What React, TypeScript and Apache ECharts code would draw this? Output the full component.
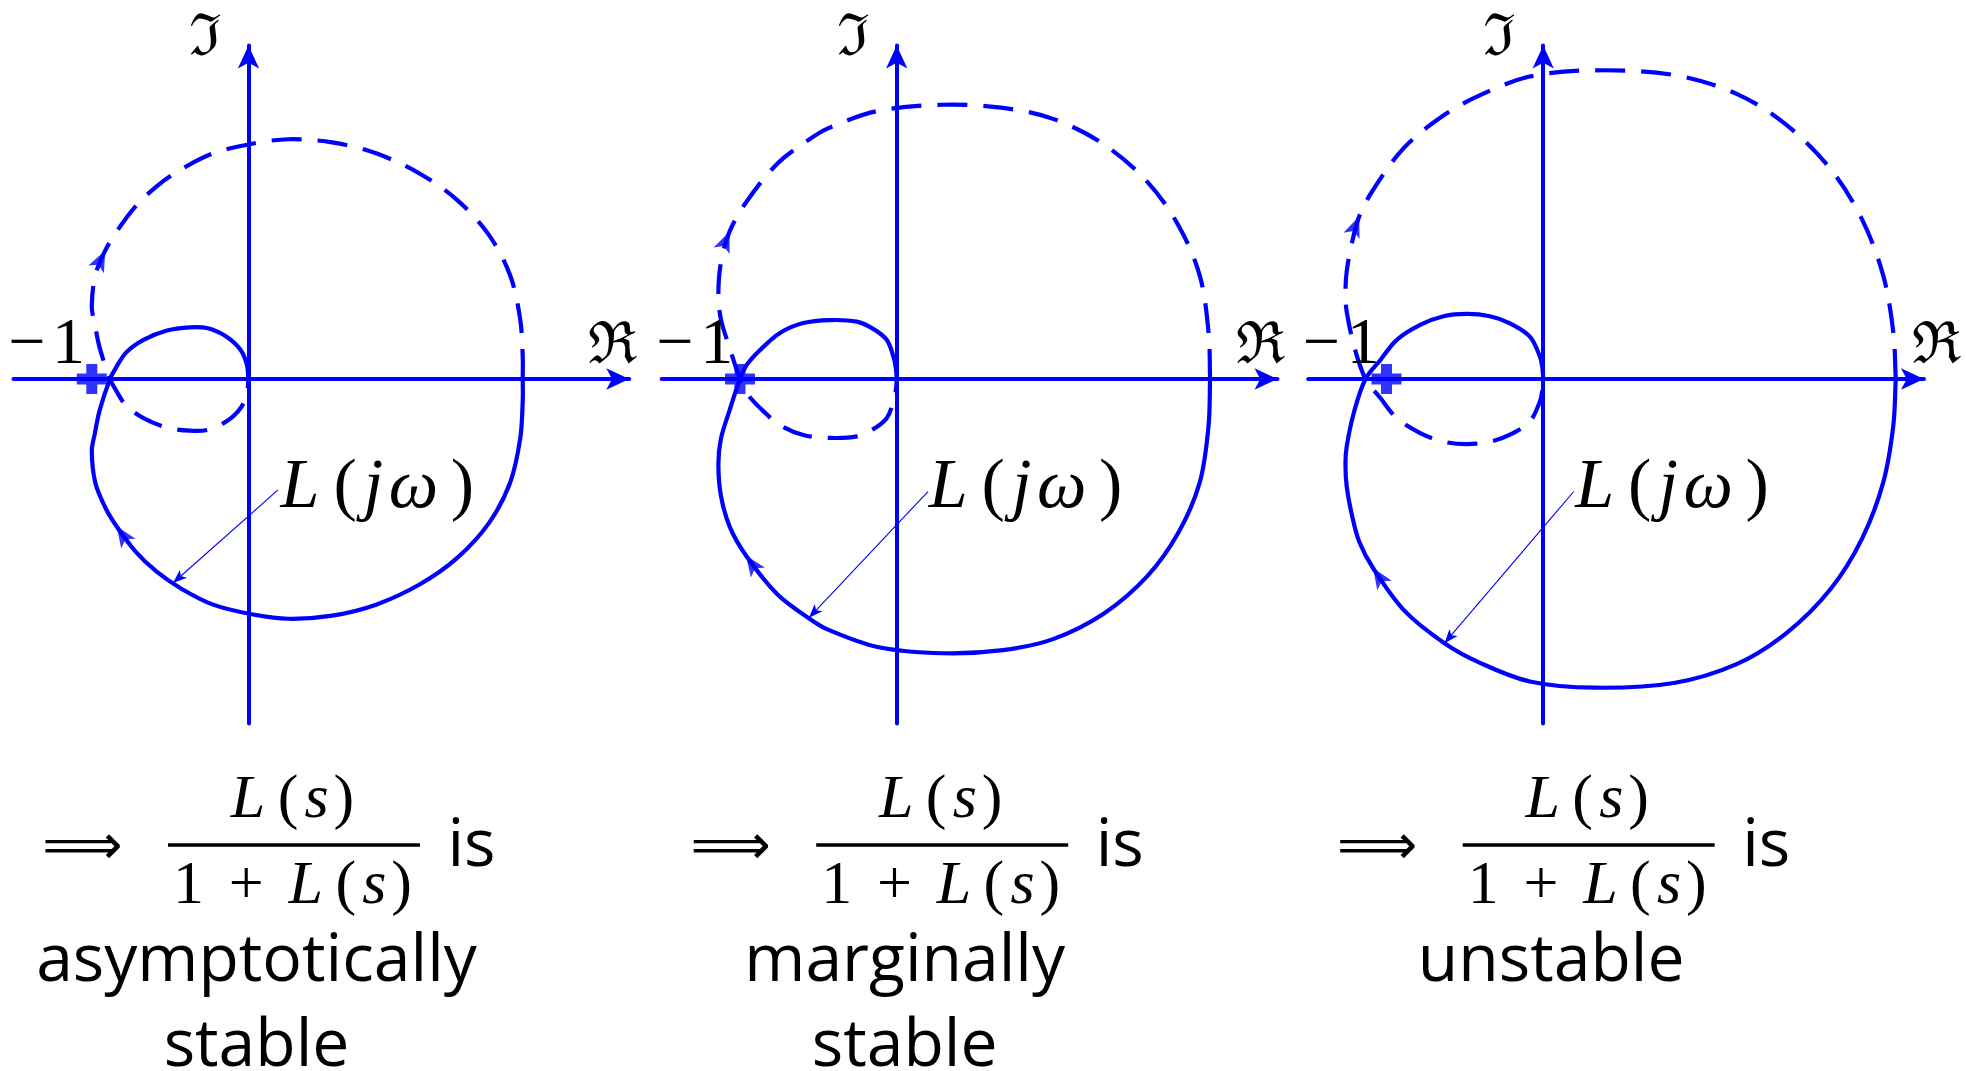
import React, { useEffect, useRef } from "react";
import * as echarts from "echarts";

// L(jω) for ω ≥ 0, listed from ω = 0 (on the positive real axis) to ω → ∞ (origin).
// The ω < 0 branch is the complex conjugate of each curve.
const stableCurve: number[][] = [
  [1.75, 0], [1.75, -0.14], [1.734, -0.38], [1.67, -0.66], [1.534, -0.92],
  [1.334, -1.14], [1.094, -1.31], [0.814, -1.44], [0.534, -1.51], [0.254, -1.53],
  [0.014, -1.5], [-0.226, -1.44], [-0.426, -1.34], [-0.586, -1.23], [-0.722, -1.1],
  [-0.842, -0.94], [-0.914, -0.82], [-0.978, -0.66], [-1.0, -0.46], [-0.98, -0.345],
  [-0.95, -0.2], [-0.884, 0], [-0.85, 0.065], [-0.78, 0.17], [-0.67, 0.25],
  [-0.52, 0.31], [-0.373, 0.33], [-0.265, 0.325], [-0.14, 0.27], [-0.05, 0.185],
  [-0.01, 0.09], [0, 0],
];

const marginalCurve: number[][] = [
  [2.0, 0], [1.99, -0.3], [1.934, -0.66], [1.798, -0.98], [1.598, -1.26],
  [1.318, -1.5], [0.998, -1.66], [0.678, -1.73], [0.294, -1.75], [-0.122, -1.71],
  [-0.442, -1.598], [-0.562, -1.526], [-0.762, -1.374], [-0.962, -1.126], [-1.066, -0.942],
  [-1.122, -0.742], [-1.138, -0.542], [-1.122, -0.382], [-1.066, -0.198], [-1.0, 0],
  [-0.957, 0.09], [-0.872, 0.185], [-0.745, 0.294], [-0.596, 0.357], [-0.426, 0.376],
  [-0.255, 0.366], [-0.15, 0.32], [-0.064, 0.25], [-0.02, 0.14], [-0.004, 0.06], [0, 0],
];

const unstableCurve: number[][] = [
  [2.25, 0], [2.234, -0.3], [2.17, -0.66], [2.034, -1.02], [1.834, -1.34],
  [1.554, -1.62], [1.234, -1.82], [0.834, -1.94], [0.33, -1.97], [-0.086, -1.93],
  [-0.406, -1.81], [-0.63, -1.686], [-0.886, -1.478], [-1.086, -1.206], [-1.174, -1.038],
  [-1.222, -0.862], [-1.254, -0.686], [-1.262, -0.542], [-1.254, -0.43], [-1.206, -0.206],
  [-1.134, 0], [-1.04, 0.12], [-0.934, 0.25], [-0.785, 0.345], [-0.636, 0.4],
  [-0.487, 0.415], [-0.34, 0.4], [-0.212, 0.355], [-0.085, 0.27], [-0.02, 0.14],
  [-0.004, 0.06], [0, 0],
];

const curves = [stableCurve, marginalCurve, unstableCurve];

// where the direction arrows sit on the ω > 0 branch and on the ω < 0 branch
const solidArrowIndex = [15, 13, 13];
const dashedArrowIndex = [16, 14, 14];

// the "L(jω)" pointer: from the label to a point on the curve
const pointerFrom: number[][] = [[0.188, -0.708], [0.2, -0.718], [0.195, -0.718]];
const pointerTo: number[][] = [[-0.482, -1.302], [-0.56, -1.524], [-0.63, -1.686]];

const criticalPoint = [-1, 0];

const verdicts: string[][] = [["asymptotically", "stable"], ["marginally", "stable"], ["unstable"]];

// axis extents in complex-plane units
const reRange = [-1.5, 2.43];
const imRange = [-2.198, 2.128];

// page layout
const ORIGIN_X = [248.5, 896.7, 1543.2];
const ORIGIN_Y = 379;
const UNIT = 156.7;
const BLUE = "#0000ff";
const SERIF = '"Liberation Serif", "DejaVu Serif", serif';
const SANS = '"Open Sans", "Noto Sans", sans-serif';
const REAL_LABEL_DX = [363.5, 363.5, 393];
const CURVE_WIDTH = 4.2;

const PLUS = "path://M9.5,0H20.5V9.5H30V20.5H20.5V30H9.5V20.5H0V9.5H9.5Z";

function unitTangent(pts: number[][], i: number) {
  const a = pts[Math.max(i - 1, 0)];
  const b = pts[Math.min(i + 1, pts.length - 1)];
  const dx = b[0] - a[0];
  const dy = b[1] - a[1];
  const len = Math.hypot(dx, dy) || 1;
  return [dx / len, dy / len];
}

function tangentRotation(pts: number[][], i: number, reverse: boolean) {
  const t = unitTangent(pts, i);
  const s = reverse ? -1 : 1;
  return (Math.atan2(s * t[1], s * t[0]) * 180) / Math.PI - 90;
}

// cubic Bézier path through pixel points, tangents from neighbouring points
function smoothPath(px: number[][]) {
  let d = `M${px[0][0]},${px[0][1]}`;
  for (let i = 0; i < px.length - 1; i++) {
    const p = px[i];
    const q = px[i + 1];
    const len = Math.hypot(q[0] - p[0], q[1] - p[1]) / 3;
    const t0 = unitTangent(px, i);
    const t1 = unitTangent(px, i + 1);
    d += ` C${p[0] + t0[0] * len},${p[1] + t0[1] * len} ${q[0] - t1[0] * len},${q[1] - t1[1] * len} ${q[0]},${q[1]}`;
  }
  return d;
}

function curveSeries(i: number, pts: number[][], dashed: boolean) {
  return {
    type: "custom",
    name: dashed ? "L(jω), ω<0" : "L(jω), ω>0",
    xAxisIndex: i,
    yAxisIndex: i,
    silent: true,
    z: 3,
    data: pts,
    encode: { x: 0, y: 1 },
    renderItem: (params: any, api: any) => {
      if (params.dataIndex !== 0) return null;
      const px = pts.map((p) => api.coord(p));
      return {
        type: "path",
        shape: { pathData: smoothPath(px) },
        style: {
          fill: "none",
          stroke: BLUE,
          lineWidth: CURVE_WIDTH,
          lineDash: dashed ? [30, 16] : null,
        },
      };
    },
  };
}

function text(x: number, y: number, str: string, style: any) {
  const align = style.align || "center";
  return {
    type: "text",
    x,
    y,
    silent: true,
    z: 100,
    style: {
      text: str,
      fill: "#000",
      align,
      verticalAlign: "middle",
      textAlign: align,
      textVerticalAlign: "middle",
      ...style,
    },
  };
}

function mathRich(size: number) {
  const it = { fontFamily: SERIF, fontStyle: "italic", fontSize: size, fill: "#000" };
  const up = { fontFamily: SERIF, fontSize: size, fill: "#000" };
  return {
    L: { ...it, padding: [0, size * 0.2, 0, 0] },
    v: { ...it, padding: [0, size * 0.08, 0, size * 0.04] },
    w: { ...it, padding: [0, size * 0.18, 0, 0] },
    po: { ...up, padding: [0, size * 0.06, 0, 0] },
    pc: { ...up },
    n: { ...up, padding: [0, size * 0.4, 0, 0] },
    op: { ...up, padding: [0, size * 0.4, 0, 0] },
    m: { ...up, padding: [0, size * 0.1, 0, 0] },
  };
}

function buildOption() {
  const grids: any[] = [];
  const xAxes: any[] = [];
  const yAxes: any[] = [];
  const series: any[] = [];
  const graphics: any[] = [];

  const axisLine = {
    show: true,
    onZero: true,
    symbol: ["none", "arrow"],
    symbolSize: [16, 23],
    lineStyle: { color: BLUE, width: 4 },
  };
  const hidden = {
    axisTick: { show: false },
    axisLabel: { show: false },
    splitLine: { show: false },
  };

  curves.forEach((curve, i) => {
    const ox = ORIGIN_X[i];
    grids.push({
      left: ox + reRange[0] * UNIT,
      top: ORIGIN_Y - imRange[1] * UNIT,
      width: (reRange[1] - reRange[0]) * UNIT,
      height: (imRange[1] - imRange[0]) * UNIT,
      containLabel: false,
    });
    xAxes.push({ type: "value", gridIndex: i, min: reRange[0], max: reRange[1], axisLine, ...hidden });
    yAxes.push({ type: "value", gridIndex: i, min: imRange[0], max: imRange[1], axisLine, ...hidden });

    const mirror = curve.map(([re, im]) => [re, -im]);

    series.push(curveSeries(i, curve, false));
    series.push(curveSeries(i, mirror, true));
    series.push({
      type: "scatter",
      xAxisIndex: i,
      yAxisIndex: i,
      silent: true,
      z: 4,
      symbol: "arrow",
      symbolSize: [13, 21],
      itemStyle: { color: BLUE },
      data: [
        {
          value: curve[solidArrowIndex[i]],
          symbolRotate: tangentRotation(curve, solidArrowIndex[i], false),
        },
        {
          value: mirror[dashedArrowIndex[i]],
          symbolRotate: tangentRotation(mirror, dashedArrowIndex[i], true),
        },
      ],
    });
    series.push({
      type: "scatter",
      name: "−1",
      xAxisIndex: i,
      yAxisIndex: i,
      silent: true,
      z: 5,
      symbol: PLUS,
      symbolSize: 30,
      itemStyle: { color: BLUE },
      data: [criticalPoint],
      markLine: {
        silent: true,
        symbol: ["none", "arrow"],
        symbolSize: [8, 14],
        label: { show: false },
        lineStyle: { color: BLUE, width: 1.1, type: "solid" },
        data: [[{ coord: pointerFrom[i] }, { coord: pointerTo[i] }]],
      },
    });

    // axis names and the critical point label
    graphics.push(text(ox - 44, 35, "ℑ", { fontFamily: '"DejaVu Serif", serif', fontSize: 58 }));
    graphics.push(text(ox + REAL_LABEL_DX[i], 343, "ℜ", { fontFamily: '"DejaVu Serif", serif', fontSize: 58 }));
    graphics.push(
      text(ox - 163.5, 340, "{m|−}{n|1}", {
        align: "right",
        rich: { m: mathRich(66).m, n: { fontFamily: SERIF, fontSize: 66, fill: "#000" } },
      })
    );
    graphics.push(
      text(ox + 32, 483, "{L|L}{po|(}{v|j}{w|ω}{pc|)}", {
        align: "left",
        rich: mathRich(70),
      })
    );

    // ⟹ L(s) / (1 + L(s)) is ...
    graphics.push(text(ox - 166, 844, "⟹", { fontFamily: '"DejaVu Sans", sans-serif', fontSize: 56 }));
    graphics.push(text(ox + 44, 796, "{L|L}{po|(}{v|s}{pc|)}", { rich: mathRich(62) }));
    graphics.push(text(ox + 44, 882, "{n|1}{op|+}{L|L}{po|(}{v|s}{pc|)}", { rich: mathRich(62) }));
    graphics.push({
      type: "rect",
      silent: true,
      z: 100,
      shape: { x: ox - 80.5, y: 843.3, width: 252, height: 3.4 },
      style: { fill: "#000" },
    });
    graphics.push(text(ox + 223, 839.5, "is", { fontFamily: SANS, fontSize: 66 }));
    verdicts[i].forEach((line, k) => {
      graphics.push(
        text(ox + 8, 955 + k * 84.5, line, { fontFamily: SANS, fontSize: 66, lineHeight: 60 })
      );
    });
  });

  return {
    animation: false,
    backgroundColor: "#ffffff",
    grid: grids,
    xAxis: xAxes,
    yAxis: yAxes,
    series,
    graphic: { elements: graphics },
  };
}

export default function App() {
  const ref = useRef<HTMLDivElement>(null);
  useEffect(() => {
    if (!ref.current) return;
    const chart = echarts.init(ref.current, null, { renderer: "svg" });
    chart.setOption(buildOption() as any);
    return () => chart.dispose();
  }, []);
  return (
    <div
      ref={ref}
      style={{ position: "fixed", left: 0, top: 0, width: 1966, height: 1071, background: "#fff" }}
    />
  );
}
